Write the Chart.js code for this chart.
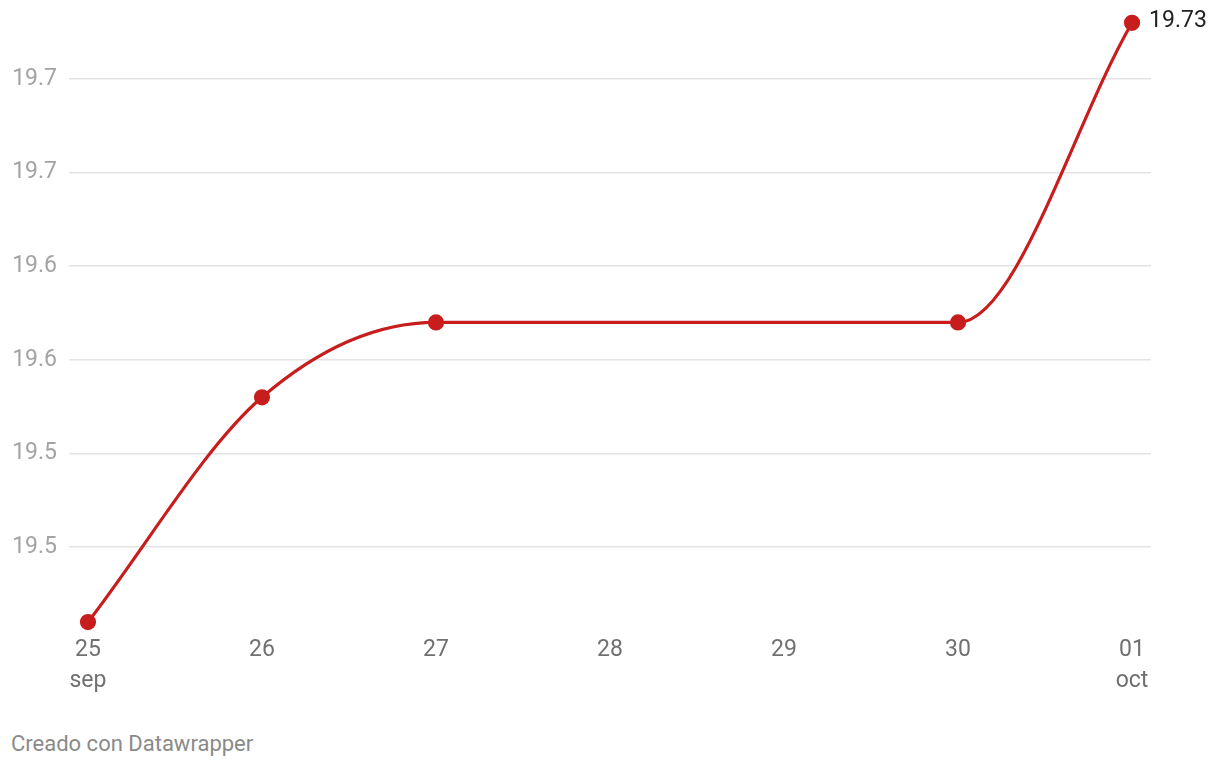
<!DOCTYPE html>
<html lang="es">
<head>
  <meta charset="UTF-8">
  <title>Tipo de cambio</title>
  <script src="https://cdn.jsdelivr.net/npm/chart.js"></script>
  <style>
    body {
      margin: 0;
      background: #fff;
      font-family: Roboto, 'Noto Sans', sans-serif;
    }
    .chart-box {
      position: relative;
      width: 1220px;
      height: 700px;
    }
    .footer {
      position: absolute;
      left: 11px;
      top: 731px;
      font-size: 22px;
      color: #8a8a8a;
    }
  </style>
</head>
<body>
  <div class="chart-box">
    <canvas id="rateChart"></canvas>
  </div>
  <div class="footer">Creado con Datawrapper</div>

  <script>
    // days since 25 sep; 28 and 29 are a weekend with no quote
    const dayIndex = [0, 1, 2, 5, 6];
    const rates = [19.41, 19.53, 19.57, 19.57, 19.73];

    const xTickDays = [0, 1, 2, 3, 4, 5, 6];
    const xTickLabels = [['25', 'sep'], '26', '27', '28', '29', '30', ['01', 'oct']];

    const yTickValues = [19.45, 19.50, 19.55, 19.60, 19.65, 19.70];
    const yTickLabels = ['19.5', '19.5', '19.6', '19.6', '19.7', '19.7'];

    const lastLabel = {
      id: 'lastLabel',
      afterDatasetsDraw(chart) {
        const meta = chart.getDatasetMeta(0);
        const pt = meta.data[meta.data.length - 1];
        const ctx = chart.ctx;
        ctx.save();
        ctx.font = '23px Roboto';
        ctx.fillStyle = '#222';
        ctx.textAlign = 'left';
        ctx.textBaseline = 'middle';
        ctx.fillText(rates[rates.length - 1].toFixed(2), pt.x + 17, pt.y - 2);
        ctx.restore();
      }
    };

    const points = dayIndex.map((d, i) => ({ x: d, y: rates[i] }));

    new Chart(document.getElementById('rateChart').getContext('2d'), {
      type: 'line',
      data: {
        datasets: [{
          data: points,
          borderColor: '#c71e1d',
          backgroundColor: '#c71e1d',
          borderWidth: 3.2,
          pointRadius: 6.5,
          pointHoverRadius: 6.5,
          cubicInterpolationMode: 'monotone',
          clip: false
        }]
      },
      options: {
        responsive: true,
        maintainAspectRatio: false,
        animation: false,
        layout: {
          padding: { left: 11, right: 69, top: 3, bottom: 0 }
        },
        plugins: {
          legend: { display: false },
          tooltip: { enabled: false }
        },
        scales: {
          x: {
            type: 'linear',
            min: -0.109,
            max: 6.109,
            afterBuildTicks: scale => {
              scale.ticks = xTickDays.map(v => ({ value: v }));
            },
            afterFit: scale => {
              scale.height = 68.6;
              scale.paddingLeft = 0;
              scale.paddingRight = 0;
            },
            grid: { display: false, drawTicks: false },
            border: { display: false },
            ticks: {
              padding: 3,
              color: '#707070',
              font: { family: 'Roboto', size: 23, lineHeight: 1.35 },
              maxRotation: 0,
              autoSkip: false,
              callback: (value) => xTickLabels[xTickDays.indexOf(value)]
            }
          },
          y: {
            min: 19.405,
            max: 19.737,
            afterBuildTicks: scale => {
              scale.ticks = yTickValues.map(v => ({ value: v }));
            },
            afterFit: scale => {
              scale.width = 58;
              scale.paddingTop = 0;
              scale.paddingBottom = 0;
            },
            grid: {
              color: '#e3e3e3',
              lineWidth: 1.5,
              drawTicks: false
            },
            border: { display: false },
            ticks: {
              padding: 12,
              color: '#a3a3a3',
              font: { family: 'Roboto', size: 23 },
              callback: (value) => yTickLabels[yTickValues.findIndex(v => Math.abs(v - value) < 1e-6)]
            }
          }
        }
      },
      plugins: [lastLabel]
    });
  </script>
</body>
</html>
